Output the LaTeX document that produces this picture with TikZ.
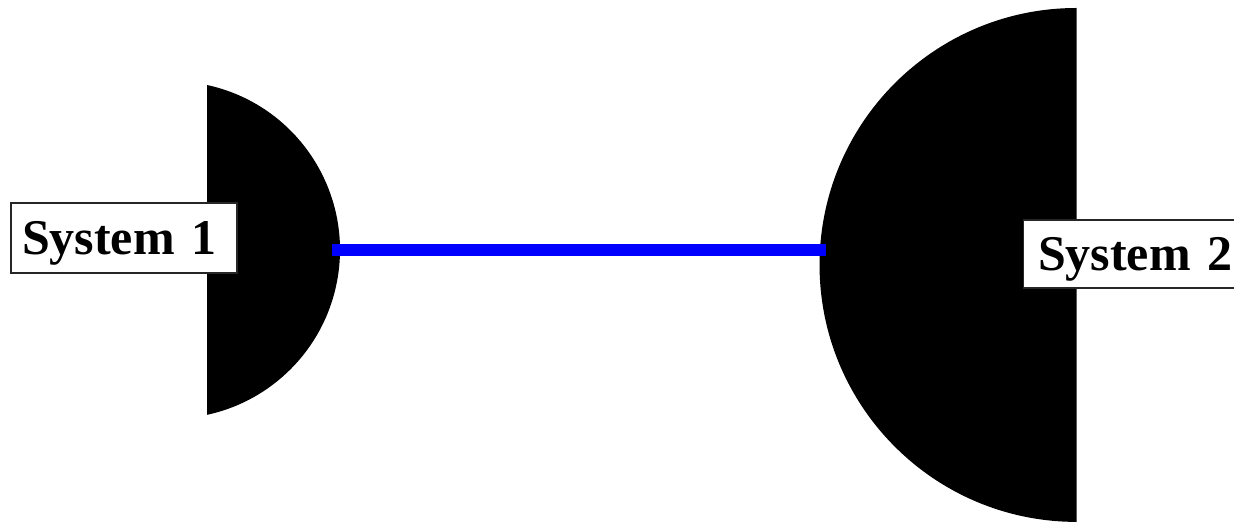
\documentclass[tikz,border=0pt]{standalone}
\usepackage{fontspec}
\setmainfont{Liberation Serif}

\begin{document}
\begin{tikzpicture}[x=0.02cm, y=0.02cm,
        sysbox/.style={draw=black!85, fill=white, line width=0.6pt,
            font=\fontsize{28.45}{30}\selectfont\bfseries,
            minimum height=1.4cm, inner ysep=0pt, inner xsep=0.22cm,
            text width=4.08cm, align=left,
            text height=0.7cm, text depth=0.02cm},
        link/.style={blue, line width=0.25cm}]
    \clip (0,0) rectangle (1234,524);
    % the two systems
    \fill (207,439) arc[start angle=77.76, end angle=-77.76, radius=3.376cm] -- cycle;
    \fill (1076.5,516) arc[start angle=90, end angle=270, radius=5.14cm] -- cycle;
    \coordinate (s1) at (332,274);
    \coordinate (s2) at (826,274);
    \draw[link] (s1) -- (s2);
    \node[sysbox] (sys1) at (124,286) {System 1};
    \node[sysbox, minimum height=1.36cm, inner xsep=0.3cm, text width=3.92cm] (sys2) at (1136,270) {System 2};
\end{tikzpicture}
\end{document}
